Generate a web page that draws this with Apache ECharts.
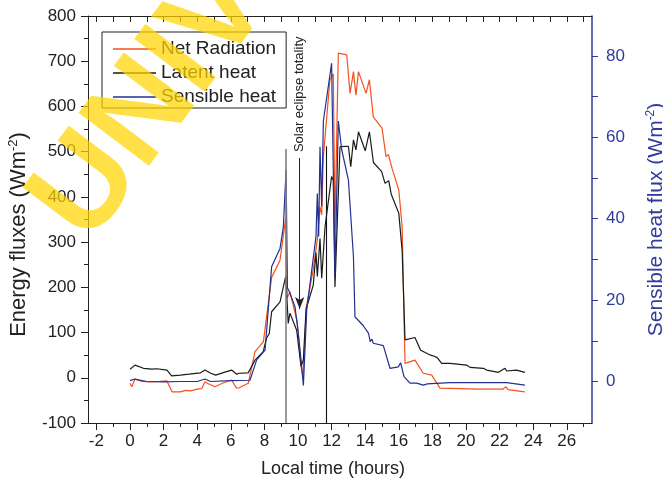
<!DOCTYPE html>
<html>
<head>
<meta charset="utf-8">
<script src="https://cdn.jsdelivr.net/npm/echarts@6/dist/echarts.min.js"></script>
<style>
  html, body { margin: 0; padding: 0; background: #fff; }
  #chart { width: 663px; height: 484px; }
</style>
</head>
<body>
<div id="chart"></div>
<script>
// hours / W m-2
const netRadiation = [
  [0,-12],[0.1,-20],[0.3,-3],[0.7,-8],[1.2,-9],[1.8,-8],[2.2,-7],[2.5,-31],[3.0,-31],[3.3,-28],
  [3.6,-29],[4.0,-25],[4.27,-24],[4.46,-9],[4.6,-12],[5.06,-20],[5.5,-12],[6.04,-5],[6.34,-23],
  [6.5,-22],[7.04,-12],[7.44,58],[7.94,80],[8.43,222],[8.93,260],[9.27,353],[9.35,176],[9.52,190],
  [9.95,125],[10.2,20],[10.3,2],[10.5,157],[10.91,240],[11.15,305],[11.31,378],[11.41,360],
  [11.51,489],[11.9,659],[12.1,672],[12.2,330],[12.4,718],[12.9,714],[13.1,629],[13.3,677],
  [13.45,625],[13.6,677],[14.05,629],[14.25,659],[14.48,577],[15.0,552],[15.24,489],[15.38,494],
  [15.6,463],[16.0,415],[16.2,334],[16.37,32],[16.96,39],[17.46,10],[17.96,6],[18.45,-23],
  [20.8,-25],[22.2,-25],[22.38,-20],[22.5,-26],[23.5,-31]
];
const latentHeat = [
  [0,19],[0.1,15],[0.3,28],[0.8,21],[1.3,19],[1.6,20],[2.2,17],[2.48,4],[3.0,6],[3.5,8],[4.2,11],
  [4.46,17],[4.8,10],[5.1,6],[5.6,12],[6.05,17],[6.35,8],[6.5,10],[7.04,11],[7.44,39],[7.93,58],
  [8.13,88],[8.29,98],[8.43,146],[8.93,168],[9.27,225],[9.42,120],[9.52,143],[9.92,105],[10.18,25],
  [10.32,40],[10.48,152],[10.91,205],[11.07,277],[11.15,224],[11.31,308],[11.41,220],[11.61,334],
  [12.0,445],[12.1,437],[12.2,201],[12.5,511],[13.0,512],[13.14,467],[13.3,526],[13.45,504],
  [13.6,544],[14.0,502],[14.25,544],[14.49,476],[14.98,456],[15.18,430],[15.4,436],[15.55,406],
  [16.0,364],[16.2,280],[16.37,84],[16.96,89],[17.3,61],[17.9,50],[18.15,47],[18.3,44],[18.55,32],
  [19.05,32],[19.15,36],[20.04,28],[20.24,23],[21.03,21],[21.23,17],[21.93,12],[22.32,21],
  [22.42,15],[23.0,17],[23.51,12]
];
// right axis
const sensibleHeat = [
  [0,0.2],[0.3,0.6],[1,0],[2,-0.1],[3,0],[4,0],[4.46,0.6],[4.8,0],[6,0.2],[7.14,0.3],[7.54,5.3],
  [8.04,7.7],[8.43,28.2],[8.93,32.7],[9.13,38],[9.29,52],[9.37,23],[9.49,22],[9.82,18.4],
  [10.02,11.8],[10.18,5.3],[10.32,-1],[10.52,17.6],[11.07,35.6],[11.15,46.2],[11.23,35.6],
  [11.31,57.7],[11.41,43],[11.51,64],[12.0,78.2],[12.2,26],[12.4,64],[12.6,57],[13.0,49.5],
  [13.3,30.7],[13.39,15.9],[13.89,13.7],[14.2,11.8],[14.3,9.8],[14.4,10.4],[14.48,9.4],
  [15.08,8.8],[15.48,3.2],[15.97,3.6],[16.11,4.6],[16.31,1.2],[16.67,-0.4],[17.06,-0.4],
  [17.46,-0.9],[17.7,-0.6],[19.05,-0.3],[22.42,-0.3],[23.51,-0.9]
];

const hourLabels = [-2,0,2,4,6,8,10,12,14,16,18,20,22,24,26];
const hourMinor = [-1,1,3,5,7,9,11,13,15,17,19,21,23,25,27];
const hourAll = hourLabels.concat(hourMinor);
const rightLabels = [0,20,40,60,80];
const rightTicks = [0,10,20,30,40,50,60,70,80];

// eclipse markers: vertical lines [hour, top value], arrow [hour, from, to]
const markerLines = [[9.27,506],[11.71,512]];
const eclipseArrow = [10.1,486,152];

const FONT = 'Liberation Sans, Arial, sans-serif';
const RED = '#f4511e', BLACK = '#1a1a1a', BLUE = '#22308f', AXBLUE = '#2f3c9c';

const chart = echarts.init(document.getElementById('chart'));

const option = {
  animation: false,
  backgroundColor: '#fff',
  textStyle: { fontFamily: FONT },
  grid: { left: 88, right: 71, top: 16, bottom: 61, containLabel: false, outerBoundsMode: 'none' },
  legend: {
    orient: 'vertical',
    left: 102, top: 32,
    padding: [7, 10, 1, 11],
    itemGap: 4, itemWidth: 43, itemHeight: 1.5,
    icon: 'rect',
    borderColor: '#222', borderWidth: 1, backgroundColor: '#fff',
    textStyle: { fontSize: 19, lineHeight: 20, color: '#222', fontFamily: FONT },
    data: ['Net Radiation', 'Latent heat', 'Sensible heat']
  },
  xAxis: [
    {
      type: 'value', position: 'bottom', min: -2.5, max: 27.5,
      name: 'Local time (hours)', nameLocation: 'middle', nameGap: 37,
      nameTextStyle: { fontSize: 18, color: '#222', padding: [0, 14, 0, 0] },
      axisLine: { onZero: false, lineStyle: { color: '#222', width: 1 } },
      axisTick: { customValues: hourLabels, length: 7, lineStyle: { color: '#222' } },
      axisLabel: { customValues: hourLabels, fontSize: 17, color: '#222', margin: 10 },
      splitLine: { show: false }
    },
    {
      type: 'value', position: 'bottom', min: -2.5, max: 27.5,
      axisLine: { show: false, onZero: false },
      axisTick: { customValues: hourMinor, length: 4, lineStyle: { color: '#222' } },
      axisLabel: { show: false },
      splitLine: { show: false }
    },
    {
      type: 'value', position: 'top', min: -2.5, max: 27.5,
      axisLine: { onZero: false, lineStyle: { color: '#222', width: 1 } },
      axisTick: { customValues: hourAll, inside: true, length: 6, lineStyle: { color: '#222' } },
      axisLabel: { show: false },
      splitLine: { show: false }
    }
  ],
  yAxis: [
    {
      type: 'value', position: 'left', min: -100, max: 800, interval: 100,
      name: 'Energy fluxes (Wm{sup|-2})', nameLocation: 'middle', nameGap: 57, nameRotate: 90,
      nameTextStyle: {
        fontSize: 22, color: '#222', padding: [0, 30, 0, 0],
        rich: { sup: { fontSize: 13, color: '#222', verticalAlign: 'top', padding: [0, 0, 11, 0] } }
      },
      axisLine: { onZero: false, lineStyle: { color: '#222', width: 1 } },
      axisTick: { length: 7, lineStyle: { color: '#222' } },
      minorTick: { show: true, splitNumber: 2, length: 4, lineStyle: { color: '#222' } },
      axisLabel: { fontSize: 17, color: '#222', margin: 12 },
      splitLine: { show: false }
    },
    {
      type: 'value', position: 'right', min: -10.2, max: 89.8,
      name: 'Sensible heat flux (Wm{sup|-2})', nameLocation: 'middle', nameGap: 53, nameRotate: 90,
      nameTextStyle: {
        fontSize: 21, color: AXBLUE,
        rich: { sup: { fontSize: 12, color: AXBLUE, verticalAlign: 'top', padding: [0, 0, 10, 0] } }
      },
      axisLine: { onZero: false, lineStyle: { color: AXBLUE, width: 1.5 } },
      axisTick: { customValues: rightTicks, length: 6, lineStyle: { color: AXBLUE } },
      axisLabel: { customValues: rightLabels, fontSize: 17, color: AXBLUE, margin: 14 },
      splitLine: { show: false }
    }
  ],
  series: [
    {
      name: 'Net Radiation', type: 'line', data: netRadiation,
      symbol: 'none', showSymbol: false,
      lineStyle: { color: RED, width: 1.2 }, itemStyle: { color: RED }
    },
    {
      name: 'Latent heat', type: 'line', data: latentHeat,
      symbol: 'none', showSymbol: false,
      lineStyle: { color: BLACK, width: 1.2 }, itemStyle: { color: BLACK },
      markLine: {
        silent: true, symbol: 'none', label: { show: false },
        data: [
          [{ coord: [markerLines[0][0], -100], lineStyle: { color: '#808080', width: 1.6, type: 'solid' } },
           { coord: [markerLines[0][0], markerLines[0][1]] }],
          [{ coord: [markerLines[1][0], -100], lineStyle: { color: '#111', width: 1.1, type: 'solid' } },
           { coord: [markerLines[1][0], markerLines[1][1]] }],
          [{ coord: [eclipseArrow[0], eclipseArrow[1]], symbol: 'none', lineStyle: { color: '#222', width: 1, type: 'solid' } },
           { coord: [eclipseArrow[0], eclipseArrow[2]], symbol: 'arrow', symbolSize: [7, 12] }]
        ]
      }
    },
    {
      name: 'Sensible heat', type: 'line', data: sensibleHeat, yAxisIndex: 1,
      symbol: 'none', showSymbol: false,
      lineStyle: { color: BLUE, width: 1.2 }, itemStyle: { color: BLUE }
    }
  ]
};
chart.setOption(option);

// annotation text + watermark placed after the axes exist
const labelPos = chart.convertToPixel({ xAxisIndex: 0, yAxisIndex: 0 }, [eclipseArrow[0], 499]);
chart.setOption({
  graphic: [
    {
      type: 'text', x: labelPos[0], y: labelPos[1], rotation: Math.PI / 2, silent: true,
      style: {
        text: 'Solar eclipse totality', fontSize: 13, fontFamily: FONT, fill: '#222',
        align: 'left', verticalAlign: 'middle'
      }
    },
    {
      type: 'text', x: 60, y: 225, rotation: 53 * Math.PI / 180, silent: true, z: 100,
      style: {
        text: 'UNIVERSITY', fontSize: 128, fontWeight: 'bold', fontFamily: FONT,
        fill: 'rgba(255, 214, 0, 0.72)', align: 'left', verticalAlign: 'middle'
      }
    }
  ]
});
</script>
</body>
</html>
